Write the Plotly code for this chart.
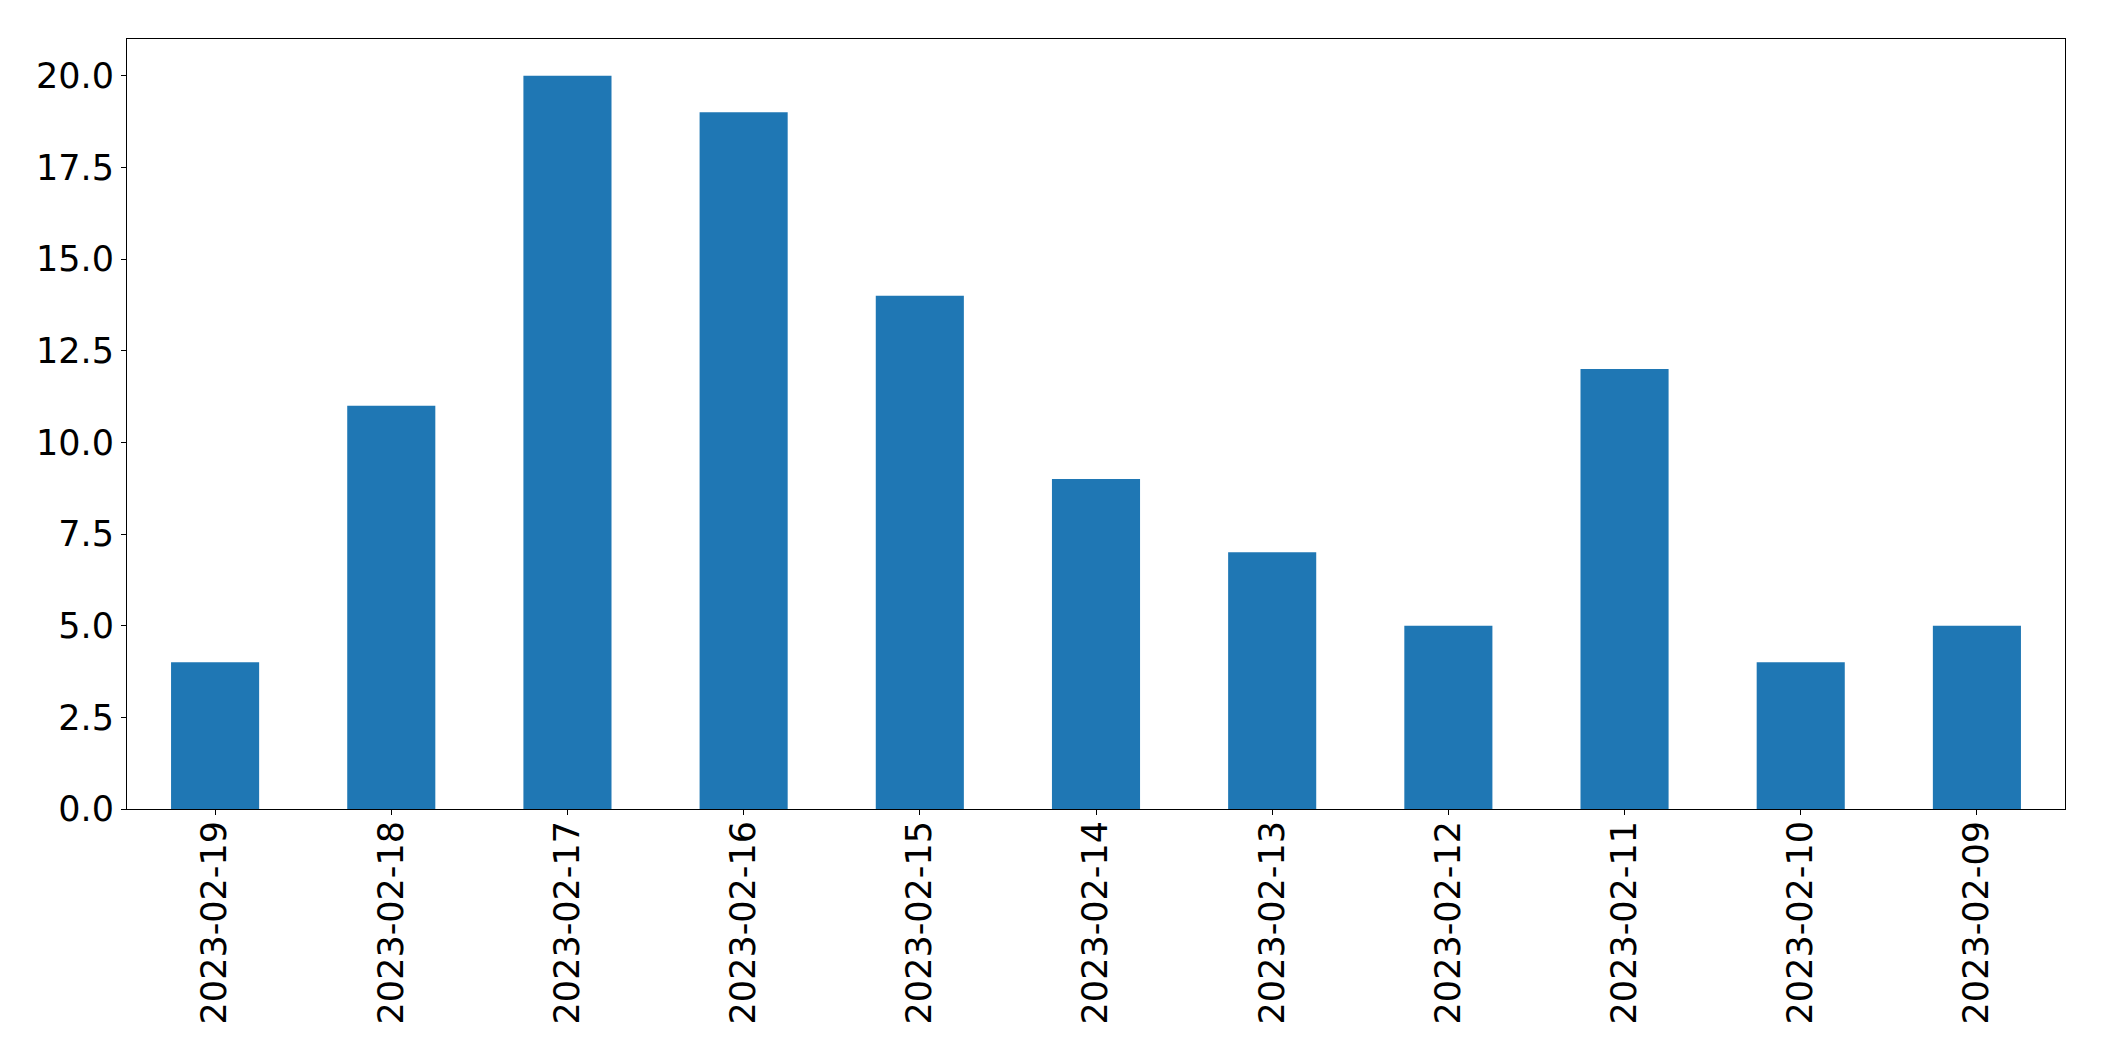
import plotly.graph_objects as go

dates = ["2023-02-19", "2023-02-18", "2023-02-17", "2023-02-16", "2023-02-15",
         "2023-02-14", "2023-02-13", "2023-02-12", "2023-02-11", "2023-02-10",
         "2023-02-09"]
counts = [4, 11, 20, 19, 14, 9, 7, 5, 12, 4, 5]
y_ticks = [0, 2.5, 5, 7.5, 10, 12.5, 15, 17.5, 20]
y_tick_labels = ["0.0", "2.5", "5.0", "7.5", "10.0", "12.5", "15.0", "17.5", "20.0"]

fig = go.Figure(go.Bar(x=dates, y=counts, marker=dict(color="#1f77b4", line=dict(width=0)),
                       width=0.5))

axis_common = dict(showline=True, linecolor="black", linewidth=1, mirror=True,
                   ticks="outside", ticklen=5, tickwidth=1, tickcolor="black",
                   showgrid=False, zeroline=False,
                   tickfont=dict(family="DejaVu Sans", size=35, color="black"))

fig.update_layout(
    width=2104, height=1061,
    margin=dict(l=119, r=47, t=31, b=260),
    plot_bgcolor="white", paper_bgcolor="white",
    showlegend=False,
    xaxis=dict(type="category", range=[-0.5, 10.5], tickangle=-90,
               ticklabelstandoff=-8, **axis_common),
    yaxis=dict(range=[0, 21], tickvals=y_ticks, ticktext=y_tick_labels, **axis_common),
)

fig.write_html("out.html")
